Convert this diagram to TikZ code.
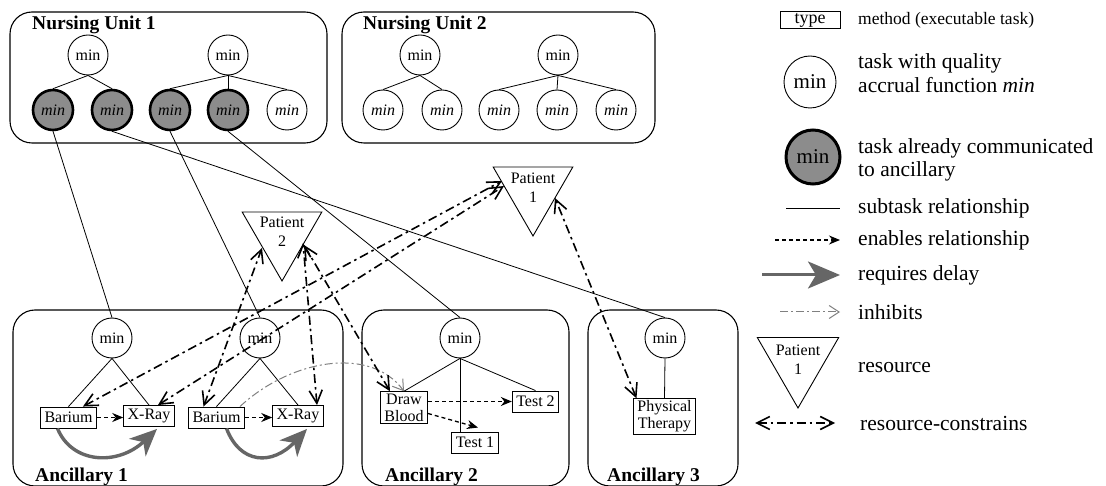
\documentclass[tikz,border=0pt]{standalone}
\usepackage{fontspec}
\setmainfont{Liberation Serif}
\usetikzlibrary{arrows.meta,shapes.geometric,calc}

\newcommand{\szf}[2]{\fontsize{#1}{#2}\selectfont}

\tikzset{
  unitbox/.style={draw, line width=1.1pt, rounded corners=22pt},
  unittitle/.style={font=\szf{19.5}{22}\bfseries, anchor=base west, inner sep=0pt},
  task/.style={circle, draw, line width=0.9pt, minimum size=40pt, inner sep=0pt, font=\szf{16}{18}},
  itask/.style={task, font=\szf{16}{18}\itshape},
  sent/.style={itask, line width=2.6pt, fill=black!45},
  meth/.style={draw, line width=0.9pt, inner xsep=4pt, inner ysep=2pt, minimum height=21pt, font=\szf{16}{17}, align=center},
  resource/.style={draw, line width=0.9pt, regular polygon, regular polygon sides=3, shape border rotate=180, minimum size=92pt, inner sep=0pt},
  restext/.style={font=\szf{16}{19}, align=center, inner sep=0pt},
  subtask/.style={line width=0.8pt},
  enables/.style={line width=1.3pt, dash pattern=on 4pt off 3pt, -{Stealth[length=11pt,width=9pt]}},
  delay/.style={line width=3.4pt, black!60, -{Stealth[length=27pt,width=24pt,inset=8pt]}},
  inhibits/.style={line width=1pt, black!50, dash pattern=on 8pt off 3pt on 2pt off 3pt, -{Straight Barb[length=10pt,width=13pt]}},
  rescon/.style={line width=1.6pt, dash pattern=on 9pt off 4pt on 2.5pt off 4pt, {Straight Barb[length=13pt,width=13pt]}-{Straight Barb[length=13pt,width=13pt]}},
  legtext/.style={anchor=west, font=\szf{21.5}{23.5}, align=left, inner sep=0pt},
}

\begin{document}
\begin{tikzpicture}[x=1pt,y=-1pt]
\useasboundingbox (0,0) rectangle (1106,486);
\fill[white] (0,0) rectangle (1106,486);
\clip (0,0) rectangle (1106,486);

% ---------- nursing units ----------
\draw[unitbox] (10,12) rectangle (327,143);
\node[unittitle] (nu1) at (32,30) {Nursing Unit 1};
\draw[unitbox] (342,12) rectangle (655,143);
\node[unittitle] (nu2) at (363,30) {Nursing Unit 2};

\node[task] (n1a) at (88,55) {min};
\node[task] (n1b) at (228,55) {min};
\node[sent] (n1a1) at (53,110) {min};
\node[sent] (n1a2) at (112,110) {min};
\node[sent] (n1b1) at (170,110) {min};
\node[sent] (n1b2) at (228,110) {min};
\node[itask] (n1b3) at (287,110) {min};

\node[task] (n2a) at (420,55) {min};
\node[task] (n2b) at (558,55) {min};
\node[itask] (n2a1) at (383,110) {min};
\node[itask] (n2a2) at (442,110) {min};
\node[itask] (n2b1) at (499,110) {min};
\node[itask] (n2b2) at (557,110) {min};
\node[itask] (n2b3) at (616,110) {min};

\foreach \p/\c in {n1a/n1a1, n1a/n1a2, n1b/n1b1, n1b/n1b2, n1b/n1b3,
                   n2a/n2a1, n2a/n2a2, n2b/n2b1, n2b/n2b2, n2b/n2b3}
  \draw[subtask] (\p.south) -- (\c.north);

% ---------- ancillaries ----------
\draw[unitbox] (13,310) rectangle (343,486);
\node[unittitle] (an1) at (35,481) {Ancillary 1};
\draw[unitbox] (362,310) rectangle (569,486);
\node[unittitle] (an2) at (385,481) {Ancillary 2};
\draw[unitbox] (588,310) rectangle (738,486);
\node[unittitle] (an3) at (607,481) {Ancillary 3};

\node[task] (a1a) at (112,338) {min};
\node[task] (a1b) at (260,338) {min};
\node[task] (a2) at (460,338) {min};
\node[task] (a3) at (665,338) {min};

\node[meth] (bar1) at (68.5,417.5) {Barium};
\node[meth] (xr1) at (149,416) {X-Ray};
\node[meth] (bar2) at (216.5,417.5) {Barium};
\node[meth] (xr2) at (298,416) {X-Ray};
\node[meth] (db) at (404,407.5) {Draw\\Blood};
\node[meth] (t2) at (535.5,401.5) {Test 2};
\node[meth] (t1) at (475,442.5) {Test 1};
\node[meth] (pt) at (664.5,416.5) {Physical\\Therapy};

\draw[subtask] (a1a.south) -- (bar1.north);
\draw[subtask] (a1a.south) -- (xr1.north);
\draw[subtask] (a1b.south) -- (bar2.north);
\draw[subtask] (a1b.south) -- (xr2.north);
\draw[subtask] (a2.south) -- (db.north);
\draw[subtask] (a2.south) -- (t2.north);
\draw[subtask] (a2.south) -- (a2.south |- t1.north);
\draw[subtask] (a3.south) -- (pt.north);

% tasks handed from nursing unit 1 to the ancillaries
\draw[subtask] (n1a1.south) -- (a1a.north);
\draw[subtask] (n1a2.south) -- (a3.north);
\draw[subtask] (n1b1.south) -- (a1b.north);
\draw[subtask] (n1b2.south) -- (a2.north);

% enables
\draw[enables] (bar1.east) -- (bar1.east -| xr1.west);
\draw[enables] (bar2.east) -- (bar2.east -| xr2.west);
\draw[enables] (db.east |- t2.west) -- (t2.west);
\draw[enables] ([yshift=-6pt]db.east) -- ($(t1.north)+(3,-4)$);

% requires delay
\draw[delay] ([xshift=-11pt]bar1.south) .. controls (72,464) and (118,466) .. ($(xr1.south)+(8,2)$);
\draw[delay] ([xshift=10pt]bar2.south) .. controls (240,464) and (272,466) .. ($(xr2.south)+(9,2)$);

% patients (resources)
\node[resource] (p2) at (282,235) {};
\node[restext] (p2t) at ($(p2.center)+(0,-3)$) {Patient\\2};
\node[resource] (p1) at (533,190) {};
\node[restext] (p1t) at ($(p1.center)+(0,-2)$) {Patient\\1};

% inhibits
\draw[inhibits] ([xshift=-5pt]bar2.north east) .. controls (290,360) and (370,345) .. (db.north);

% resource constraints
\draw[rescon] ([xshift=-14pt]bar1.north east) -- ($(p1.center)+(-31,-9)$);
\draw[rescon] ([xshift=9pt]xr1.north) -- ($(p1.center)+(-29,-4)$);
\draw[rescon] ([xshift=-13pt]bar2.north) -- ($(p2.center)+(-20,13)$);
\draw[rescon] ([xshift=19pt]xr2.north) -- ($(p2.center)+(21,8)$);
\draw[rescon] ([xshift=-14pt]db.north) -- ($(p2.center)+(22,10)$);
\draw[rescon] ([xshift=-28pt]pt.north) -- ($(p1.center)+(22,8)$);

% ---------- legend ----------
\node[draw, line width=0.9pt, minimum width=60pt, minimum height=17pt, inner sep=0pt,
      font=\szf{18}{18}] (lgtype) at (810,20) {type};
\node[legtext, font=\szf{17.5}{19}] (lgtypet) at (858,20) {method (executable task)};

\node[task, minimum size=52pt, font=\szf{21}{21}] (lgmin) at (810,82) {min};
\node[legtext] (lgmint) at (858,73) {task with quality\\accrual function \textit{min}};

\node[task, minimum size=54pt, line width=3pt, fill=black!45, font=\szf{21}{21}] (lgsent) at (813,157) {min};
\node[legtext] (lgsentt) at (858,160) {task already communicated\\to ancillary};

\coordinate (ls1) at (786,208); \coordinate (ls2) at (840,208);
\draw[subtask] (ls1) -- (ls2);
\node[legtext] (lgsub) at (858,208) {subtask relationship};

\coordinate (le1) at (775,240); \coordinate (le2) at (840,240);
\draw[enables] (le1) -- (le2);
\node[legtext] (lgen) at (858,240) {enables relationship};

\coordinate (ld1) at (762,275); \coordinate (ld2) at (840,275);
\draw[delay, line width=3pt, -{Stealth[length=32pt,width=27pt,inset=8pt]}] (ld1) -- (ld2);
\node[legtext] (lgdel) at (858,275) {requires delay};

\coordinate (li1) at (780,312); \coordinate (li2) at (840,312);
\draw[inhibits] (li1) -- (li2);
\node[legtext] (lginh) at (858,312) {inhibits};

\node[resource, minimum size=94pt] (lgres) at (798,361) {};
\node[restext] (lgrest) at ($(lgres.center)+(0,-1)$) {Patient\\1};
\node[legtext] (lgrestt) at (858,368) {resource};

\coordinate (lr1) at (755,423); \coordinate (lr2) at (835,423);
\draw[rescon] (lr1) -- (lr2);
\node[legtext] (lgrc) at (860,423) {resource-constrains};
\end{tikzpicture}
\end{document}
